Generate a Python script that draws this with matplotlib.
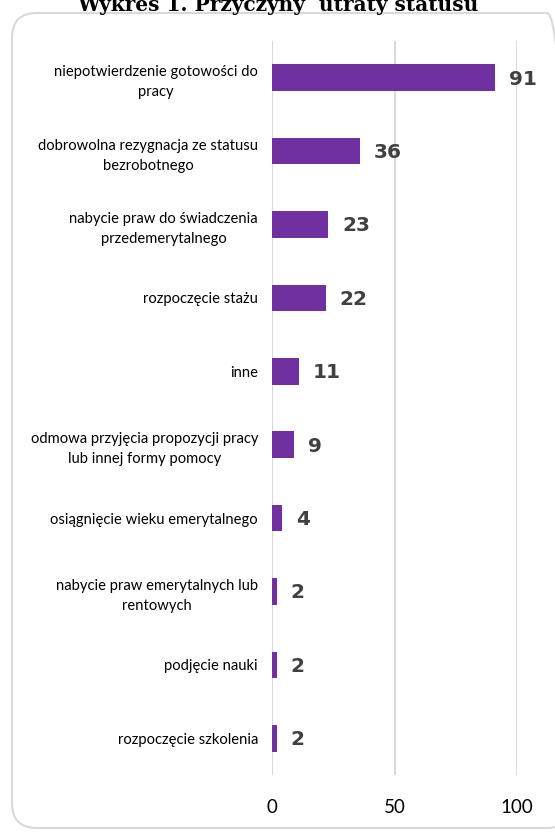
import matplotlib.pyplot as plt
from matplotlib.patches import FancyBboxPatch

categories = [
    "niepotwierdzenie gotowości do\npracy",
    "dobrowolna rezygnacja ze statusu\nbezrobotnego",
    "nabycie praw do świadczenia\nprzedemerytalnego",
    "rozpoczęcie stażu",
    "inne",
    "odmowa przyjęcia propozycji pracy\nlub innej formy pomocy",
    "osiągnięcie wieku emerytalnego",
    "nabycie praw emerytalnych lub\nrentowych",
    "podjęcie nauki",
    "rozpoczęcie szkolenia",
]
values = [91, 36, 23, 22, 11, 9, 4, 2, 2, 2]
xticks = [0, 50, 100]

fig = plt.figure(figsize=(5.55, 8.32), dpi=100)

# rounded frame around the chart (partly outside the picture on the right)
frame = FancyBboxPatch((12 / 555, 4 / 832), 560 / 555, 815 / 832,
                       boxstyle="round,pad=0,rounding_size=0.045",
                       transform=fig.transFigure, facecolor="none",
                       edgecolor="#D9D9D9", linewidth=1.5,
                       mutation_aspect=555 / 832)
fig.patches.append(frame)

fig.text(0.50, 1 - 11 / 832, "Wykres 1. Przyczyny  utraty statusu",
         ha="center", va="baseline", fontsize=14.5, fontweight="bold",
         family="DejaVu Serif")

ax = fig.add_axes([272 / 555, 1 - 775 / 832, 245 / 555, 734 / 832])
pos = list(range(len(values)))
ax.barh(pos, values, height=0.36, color="#7030A0", zorder=3)
ax.set_ylim(len(values) - 0.5, -0.5)
ax.set_xlim(0, 100)
ax.set_xticks(xticks)
ax.set_xticklabels([str(t) for t in xticks], fontsize=13.5, family="Lato")
ax.set_yticks(pos)
ax.set_yticklabels(categories, fontsize=10.6, family="Lato",
                   multialignment="center", linespacing=1.55)
ax.tick_params(axis="both", length=0)
ax.tick_params(axis="x", pad=17)
ax.tick_params(axis="y", pad=10)
ax.grid(axis="x", color="#D9D9D9", linewidth=1.5, zorder=0)
for s in ax.spines.values():
    s.set_visible(False)

for p, v in zip(pos, values):
    ax.annotate(str(v), (v, p), xytext=(10, -1), textcoords="offset points",
                ha="left", va="center", fontsize=14.5, fontweight="bold",
                color="#404040", family="DejaVu Sans")

fig.savefig("out.png", dpi=100)
